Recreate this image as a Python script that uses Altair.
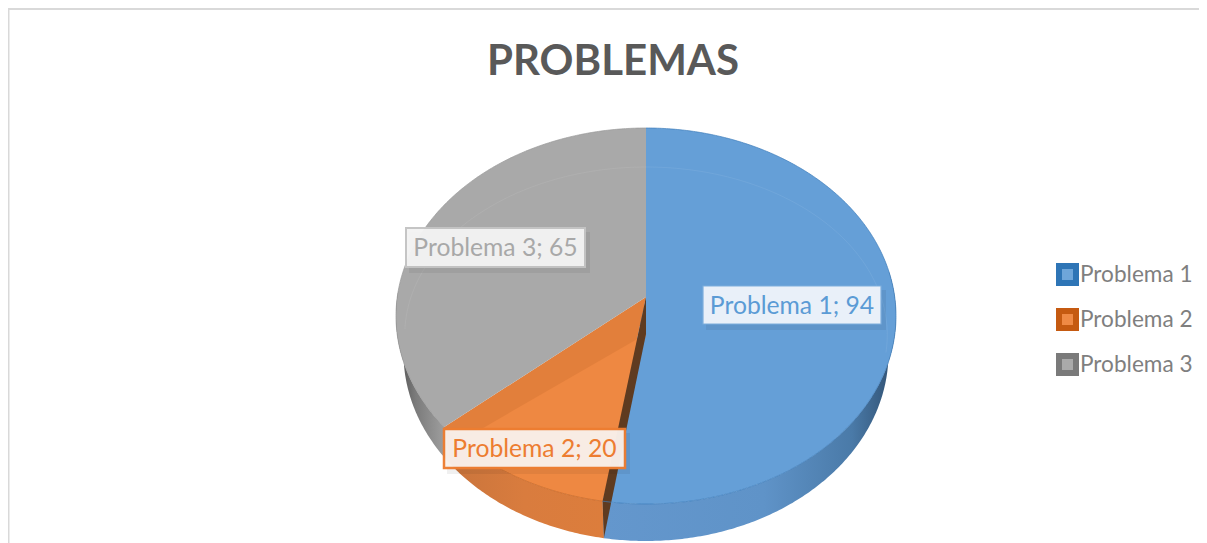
import numpy as np
import pandas as pd
import altair as alt

# --- values ---
categories = ["Problema 1", "Problema 2", "Problema 3"]
values = [94, 20, 65]
face_colors = ["#659fd7", "#e27f3b", "#a9a9a9"]
legend_fill = ["#6ea6da", "#ef8a45", "#aaaaaa"]
legend_stroke = ["#2e75b6", "#c55a11", "#7a7a7a"]
label_colors = ["#5b9bd5", "#ed7d31", "#a8a8a8"]

W, H = 1191, 535
FONT = "Lato"

# pie geometry in axis units: one x unit = the semi-axis in x, one y unit = the semi-axis in y
CX_PX, CY_PX, AX_PX, AY_PX = 638, 308, 250, 188
x_dom = [-CX_PX / AX_PX, (W - CX_PX) / AX_PX]
y_dom = [-(H - CY_PX) / AY_PX, CY_PX / AY_PX]
DEPTH = 37 / AY_PX
LOW = 0.97
E = 0.101  # perspective shift of the pie's centre

total = sum(values)
edges = np.cumsum([0] + values) / total * 2 * np.pi


def project(theta):
    s, c = np.sin(theta), np.cos(theta)
    d = 1 + E * c
    return s * np.sqrt(1 - E * E) / d, (c + E) / d


def arc(a, b, step=0.01):
    n = max(2, int(abs(b - a) / step))
    return project(np.linspace(a, b, n))


def frame(xs, ys):
    return pd.DataFrame({"x": xs, "y": ys, "i": np.arange(len(xs))})


X = alt.X("x:Q", scale=alt.Scale(domain=x_dom, nice=False, zero=False), axis=None)
Y = alt.Y("y:Q", scale=alt.Scale(domain=y_dom, nice=False, zero=False), axis=None)


def poly(df, fill, stroke=None, sw=0.0, **kw):
    return alt.Chart(df).mark_line(
        fill=fill, stroke=stroke if stroke else "transparent", strokeWidth=sw, **kw
    ).encode(x=X, y=Y, order=alt.Order("i:Q"))


def grad(stops):
    return alt.Gradient(
        gradient="linear", x1=0, x2=1, y1=0, y2=0,
        stops=[alt.GradientStop(offset=o, color=c) for o, c in stops],
    )


def side(a, b, fill):
    xs, ys = arc(a, b)
    return poly(frame(np.r_[xs, xs[::-1] * LOW], np.r_[ys, ys[::-1] - DEPTH]), fill)


def wedge(a, b, fill, apex_y=E):
    xs, ys = arc(a, b)
    return poly(frame(np.r_[0, xs, 0], np.r_[apex_y, ys, apex_y]), fill)


rad = np.deg2rad
layers = []

# hidden under the pie; supplies the legend
legend_df = pd.DataFrame({"cat": categories, "x": [0, 0, 0], "y": [0, 0, 0]})
layers.append(
    alt.Chart(legend_df).mark_point(filled=True, shape="square", size=200, strokeWidth=5).encode(
        x=X, y=Y,
        fill=alt.Fill("cat:N", scale=alt.Scale(domain=categories, range=legend_fill),
                      legend=alt.Legend(
                          title=None, orient="none", legendX=1048, legendY=255,
                          symbolType="square", symbolSize=289, symbolStrokeWidth=6,
                          labelFont=FONT, labelFontSize=22.6, labelColor="#7f7f7f",
                          labelOffset=1, rowPadding=4, symbolOpacity=1)),
        stroke=alt.Stroke("cat:N", scale=alt.Scale(domain=categories, range=legend_stroke), legend=None),
    )
)

# outer walls
layers.append(side(rad(82), edges[1], grad([(0, "#6497cd"), (0.55, "#5f93c8"), (0.85, "#4a7aa8"), (1, "#2f4f70")])))
layers.append(side(edges[1], edges[2], grad([(0, "#c8743c"), (0.5, "#d97c3e"), (1, "#dc7d3c")])))
layers.append(side(edges[2], rad(272), grad([(0, "#4c4c4c"), (0.35, "#7a7a7a"), (1, "#a5a5a5")])))

# top faces
layers.append(wedge(edges[0], edges[1], face_colors[0]))
layers.append(wedge(edges[1], edges[2], face_colors[1]))
layers.append(wedge(edges[2], edges[3], face_colors[2]))

# lighter inset of the orange slice
inset_end = edges[2] - rad(5.3)
xs_in, ys_in = arc(edges[1], inset_end)
layers.append(poly(frame(np.r_[0, xs_in, 0], np.r_[E - DEPTH, ys_in, E - DEPTH]), "#ee8842"))

# cut wall between the slices
xo, yo = project(edges[1])
layers.append(poly(frame([0, xo, xo * LOW, 0, 0], [E, yo, yo - DEPTH, E - DEPTH, E]), "#5f3b20"))

# rim lines of the top face
for a, b, col in [(edges[0], edges[1], "#3f7dbb"), (edges[1], edges[2], "#c46a2b"), (edges[2], edges[3], "#999999")]:
    xr, yr = arc(a, b)
    layers.append(alt.Chart(frame(xr, yr)).mark_line(stroke=col, strokeWidth=1, opacity=0.7).encode(x=X, y=Y, order=alt.Order("i:Q")))

# faint bevel ellipse
for a, b in [(rad(0), rad(96)), (rad(272), rad(360))]:
    t = np.linspace(a, b, 200)
    xb = 0.965 * np.sin(t)
    yb = -19 / 188 + (168 / 188) * np.cos(t)
    layers.append(alt.Chart(frame(xb, yb)).mark_line(stroke="#ffffff", strokeWidth=1, opacity=0.07).encode(x=X, y=Y, order=alt.Order("i:Q")))


def px(v):
    return alt.value(v)


# chart frame
layers.append(alt.Chart(legend_df.head(1)).mark_rule(stroke="#d9d9d9", strokeWidth=2).encode(x=px(0.5), y=px(0), y2=px(H)))
layers.append(alt.Chart(legend_df.head(1)).mark_rule(stroke="#d9d9d9", strokeWidth=2).encode(y=px(1), x=px(0), x2=px(W)))

# data labels: box in page pixels minus the 8px margin
boxes = [
    (703, 881, 286, 324, "#eef3fb", 0.97, "#7fb0de", 1.2),
    (444, 625, 429, 468, "#f9f0ea", 0.97, "#ed7d31", 2.5),
    (406, 585, 228, 267, "#f3f3f3", 0.97, "#c4c4c4", 2.0),
]
for (x0, x1, y0, y1, fill, op, st, sw), cat, val, col in zip(boxes, categories, values, label_colors):
    one = pd.DataFrame({"t": [f"{cat}; {val}"]})
    layers.append(alt.Chart(one).mark_rect(fill="#000000", opacity=0.06).encode(
        x=px(x0 - 8 + 3), x2=px(x1 - 8 + 5), y=px(y0 - 8 + 4), y2=px(y1 - 8 + 6)))
    layers.append(alt.Chart(one).mark_rect(fill=fill, opacity=op, stroke=st, strokeWidth=sw).encode(
        x=px(x0 - 8), x2=px(x1 - 8), y=px(y0 - 8), y2=px(y1 - 8)))
    layers.append(alt.Chart(one).mark_text(font=FONT, fontSize=24.7, color=col, align="center", baseline="middle").encode(
        x=px((x0 + x1) / 2 - 8), y=px((y0 + y1) / 2 - 6.5), text="t:N"))

chart = alt.layer(*layers).properties(
    width=W, height=H, padding=0,
    autosize=alt.AutoSizeParams(type="none"),
    title=alt.TitleParams(
        text="PROBLEMAS", font=FONT, fontSize=42, fontWeight="bold", color="#595959",
        anchor="middle", frame="group", offset=-77, dx=9.5,
    ),
).configure_view(stroke=None)

chart.save("out.html", embed_options={"renderer": "svg", "actions": False})
